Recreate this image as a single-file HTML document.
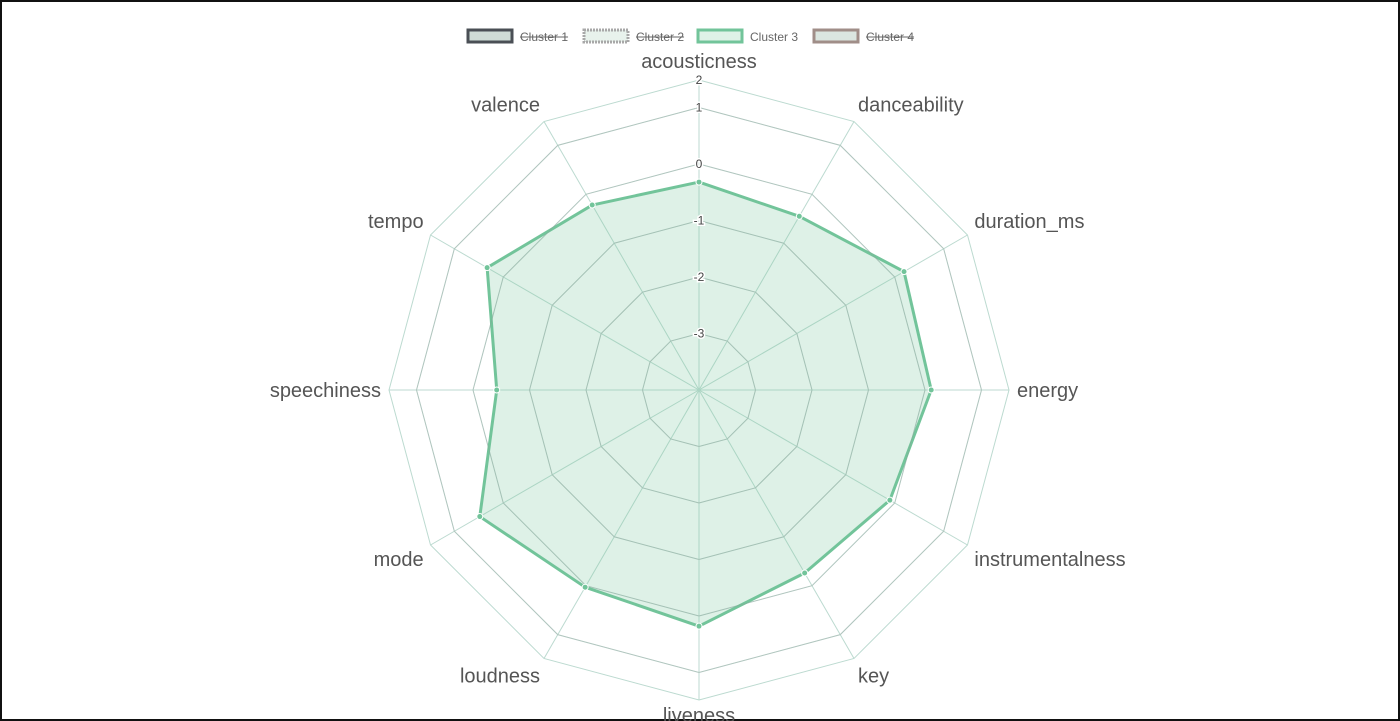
<!DOCTYPE html>
<html><head><meta charset="utf-8"><style>
html,body{margin:0;padding:0;background:#fff;}
body{width:1400px;height:721px;overflow:hidden;position:relative;font-family:"Liberation Sans",sans-serif;}
#frame{position:absolute;left:0;top:0;width:1396px;height:717px;border:2px solid #111;}
svg{position:absolute;left:0;top:0;}
</style></head><body>
<div id="frame"></div>
<svg id="chart" width="1400" height="721"></svg>
<script>
const categories=["acousticness","danceability","duration_ms","energy","instrumentalness","key","liveness","loudness","mode","speechiness","tempo","valence"];
const cluster3Values=[-0.32,-0.45,0.19,0.11,-0.1,-0.26,0.18,0.03,0.48,-0.42,0.33,-0.22];
const tickValues=[-3,-2,-1,0,1];
const tickLabels=["-3","-2","-1","0","1","2"];
const legendNames=["Cluster 1","Cluster 2","Cluster 3","Cluster 4"];
const legendHidden=[true,true,false,true];

const NS="http://www.w3.org/2000/svg";
const svg=document.getElementById('chart');
const cx=699,cy=390,step=56.5,minV=-4,outerR=310;
function rScale(v){return (v-minV)*step;}
function pt(i,r){const a=-Math.PI/2+i*2*Math.PI/categories.length;return [cx+r*Math.cos(a),cy+r*Math.sin(a)];}
function mk(tag,attrs){const e=document.createElementNS(NS,tag);for(const k in attrs)e.setAttribute(k,attrs[k]);svg.appendChild(e);return e;}
const n=categories.length;
const ringRs=tickValues.map(rScale).concat([outerR]);
ringRs.forEach((r,k)=>{
  const pts=[];for(let i=0;i<n;i++)pts.push(pt(i,r).join(','));
  const p=mk('polygon',{points:pts.join(' '),fill:'none',stroke:'#bcdad0','stroke-width':1});
  
  
});
for(let i=0;i<n;i++){
  const [x,y]=pt(i,outerR);
  const l=mk('line',{x1:cx,y1:cy,x2:x,y2:y,stroke:'#bcdad0','stroke-width':1});
  
  
}
const dpts=cluster3Values.map((v,i)=>pt(i,rScale(v)));
const poly=mk('polygon',{points:dpts.map(p=>p.join(',')).join(' '),fill:'rgba(124,200,160,0.25)',stroke:'#72c49a','stroke-width':3,'stroke-linejoin':'round'});


ringRs.slice(0,5).forEach(r=>{
  const pts=[];for(let i=0;i<n;i++)pts.push(pt(i,r).join(','));
  const p=mk('polygon',{points:pts.join(' '),fill:'none',stroke:'rgba(150,150,150,0.3)','stroke-width':1});
  
  
});
dpts.forEach((p,i)=>{
  const c=mk('circle',{cx:p[0],cy:p[1],r:3,fill:'#72c49a',stroke:'#fff','stroke-width':1});
  
  
});
ringRs.forEach((r,k)=>{
  const y=cy-r;
  const t=mk('text',{x:cx,y:y+4,'text-anchor':'middle','font-size':12,fill:'#444',stroke:'#fff','stroke-width':3,'paint-order':'stroke'});
  t.textContent=tickLabels[k];
  
  
});
categories.forEach((c,i)=>{
  const [x,y]=pt(i,318);
  const a=i%6===0?'middle':(i<6?'start':'end');
  let dy;
  if(i===0)dy=-4;
  else if(i===6)dy=14;
  else if(i===3||i===9)dy=7;
  else if(i<3||i>9)dy=-3;
  else dy=17;
  const t=mk('text',{x:x,y:y+dy,'text-anchor':a,'font-size':20,fill:'#555'});
  t.textContent=c;
  
  
});
const lx=[468,584,698,814];
const lstroke=['#4a4f55','#a8a8a8','#72c49a','#a08e88'];
const lfill=['#cfdcd6','#e8f2ec','#dff2e7','#dbe6e0'];
legendNames.forEach((nm,i)=>{
  const b=mk('rect',{x:lx[i],y:30,width:44,height:12,fill:lfill[i],stroke:lstroke[i],'stroke-width':3,'stroke-dasharray':i===1?'2,1':'none'});
  
  
  const t=mk('text',{x:lx[i]+52,y:41,'font-size':12,fill:'#666'});
  t.textContent=nm;
  
  
  if(legendHidden[i]){
    const w=t.getComputedTextLength();
    const l=mk('line',{x1:lx[i]+52,y1:37,x2:lx[i]+52+w,y2:37,stroke:'#666','stroke-width':1});
    
    
  }
});
</script>
</body></html>
